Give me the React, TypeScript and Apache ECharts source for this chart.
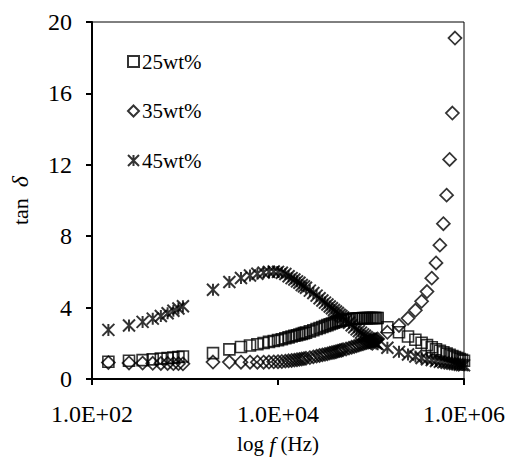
import React, { useEffect, useRef } from 'react';
import * as echarts from 'echarts';

// Frequencies (Hz)
const freqLow = [150, 250, 350, 450, 550, 650, 750, 850, 950];
const freqMid = [
  2000, 3000, 4000, 5000, 6000, 7000, 8000, 9000, 10000, 11000, 12000, 13000, 14000, 15000,
  16000, 17000, 18000, 19000, 20000, 22000, 24000, 26000, 28000, 30000, 32000, 34000, 36000,
  38000, 40000, 42000, 44000, 46000, 48000, 50000, 54000, 58000, 62000, 66000, 70000, 74000,
  78000, 82000, 86000, 90000, 94000, 98000, 102000, 106000, 110000, 114000, 118000,
];
const freqHigh = [
  150000, 200000, 250000, 300000, 350000, 400000, 450000, 500000, 550000, 600000, 650000,
  700000, 750000, 800000, 850000, 900000, 950000, 1000000,
];

// tan delta, 25wt%
const tan25Low = [0.97, 1.02, 1.06, 1.1, 1.14, 1.17, 1.2, 1.23, 1.26];
const tan25Mid = [
  1.45, 1.66, 1.79, 1.88, 1.95, 2.02, 2.08, 2.13, 2.18, 2.23, 2.28, 2.33, 2.38, 2.42, 2.45,
  2.49, 2.53, 2.57, 2.6, 2.67, 2.73, 2.8, 2.86, 2.91, 2.97, 3.02, 3.07, 3.11, 3.15, 3.19,
  3.22, 3.25, 3.27, 3.29, 3.32, 3.35, 3.37, 3.38, 3.39, 3.4, 3.4, 3.41, 3.41, 3.41, 3.42,
  3.42, 3.42, 3.42, 3.42, 3.42, 3.42,
];
const tan25High = [
  2.9, 2.62, 2.38, 2.2, 2.03, 1.9, 1.78, 1.67, 1.58, 1.5, 1.42, 1.35, 1.29, 1.23, 1.17, 1.12,
  1.07, 1.02,
];

// tan delta, 35wt%
const tan35Low = [0.92, 0.9, 0.89, 0.88, 0.87, 0.87, 0.86, 0.86, 0.85];
const tan35Mid = [
  0.95, 0.95, 0.94, 0.94, 0.94, 0.94, 0.95, 0.96, 0.97, 0.98, 1.0, 1.02, 1.04, 1.06, 1.08,
  1.1, 1.12, 1.14, 1.16, 1.2, 1.24, 1.28, 1.32, 1.35, 1.38, 1.41, 1.45, 1.48, 1.5, 1.53,
  1.56, 1.59, 1.61, 1.64, 1.68, 1.73, 1.78, 1.82, 1.86, 1.9, 1.94, 1.97, 2.01, 2.04, 2.07,
  2.1, 2.13, 2.16, 2.19, 2.21, 2.24,
];
const tan35High = [2.62, 3.0, 3.4, 3.85, 4.35, 4.9, 5.65, 6.5, 7.5, 8.7, 10.3, 12.3, 14.9, 19.1];

// tan delta, 45wt%
const tan45Low = [2.75, 3.0, 3.2, 3.38, 3.53, 3.68, 3.82, 3.95, 4.08];
const tan45Mid = [
  5.0, 5.43, 5.66, 5.8, 5.9, 5.96, 6.0, 6.02, 6.0, 5.95, 5.88, 5.76, 5.65, 5.57, 5.47, 5.39,
  5.27, 5.19, 5.11, 4.95, 4.82, 4.67, 4.52, 4.4, 4.28, 4.17, 4.06, 3.96, 3.87, 3.78, 3.7,
  3.6, 3.53, 3.45, 3.3, 3.15, 3.01, 2.9, 2.78, 2.68, 2.6, 2.5, 2.42, 2.34, 2.27, 2.22, 2.15,
  2.1, 2.04, 1.99, 1.94,
];
const tan45High = [
  1.75, 1.52, 1.37, 1.26, 1.18, 1.11, 1.06, 1.01, 0.97, 0.94, 0.91, 0.88, 0.86, 0.84, 0.82,
  0.8, 0.78, 0.77,
];

const seriesNames = ['25wt%', '35wt%', '45wt%'];
const xMin = 100;
const xMax = 1000000;
const yMin = 0;
const yMax = 20;
const yStep = 4;

const FONT = '"Liberation Serif", "Times New Roman", serif';

function pairs(fs: number[], vs: number[]) {
  return vs.map((v, i) => [fs[i], v]);
}

function fmtExp(v: number) {
  const e = Math.floor(Math.log10(v) + 1e-9);
  const m = v / Math.pow(10, e);
  const es = String(Math.abs(e)).padStart(2, '0');
  return m.toFixed(1) + 'E' + (e >= 0 ? '+' : '-') + es;
}

const STAR = 'path://M0 0L10 10M10 0L0 10M5 0L5 10';

export default function App() {
  const ref = useRef<HTMLDivElement>(null);
  useEffect(() => {
    if (!ref.current) return;
    const chart = echarts.init(ref.current, null, { renderer: 'svg' });
    const mk = (name: string, data: number[][], symbol: string, size: number, bw: number) => ({
      name,
      type: 'scatter',
      data,
      symbol,
      symbolSize: size,
      itemStyle: { color: 'rgba(0,0,0,0)', borderColor: '#000', borderWidth: bw },
      emphasis: { disabled: true },
    });
    chart.setOption({
      animation: false,
      backgroundColor: '#fff',
      grid: {
        left: 92,
        right: 46,
        top: 22,
        bottom: 80,
        containLabel: false,
        outerBoundsMode: 'none',
        show: true,
        borderColor: '#000',
        borderWidth: 1,
        backgroundColor: 'transparent',
      },
      legend: {
        orient: 'vertical',
        left: 122,
        top: 46,
        itemWidth: 11,
        itemHeight: 11,
        itemGap: 28.5,
        textStyle: { fontFamily: FONT, fontSize: 21, color: '#000', padding: [0, 0, 0, -2] },
        data: seriesNames,
      },
      xAxis: {
        type: 'log',
        logBase: 10,
        min: xMin,
        max: xMax,
        interval: 2,
        name: '{a|log }{b|f}{a| (Hz)}',
        nameLocation: 'middle',
        nameGap: 54,
        nameTextStyle: {
          rich: {
            a: { fontFamily: FONT, fontSize: 21, color: '#000' },
            b: { fontFamily: FONT, fontSize: 22, color: '#000', fontStyle: 'italic' },
          },
        },
        axisLine: { show: true, lineStyle: { color: '#000', width: 2 } },
        axisTick: { show: true, inside: false, length: 6, lineStyle: { color: '#000', width: 2 } },
        axisLabel: {
          fontFamily: FONT,
          fontSize: 24,
          color: '#000',
          margin: 23,
          formatter: (v: number) => fmtExp(v),
        },
        splitLine: { show: false },
        minorTick: { show: false },
      },
      yAxis: {
        type: 'value',
        min: yMin,
        max: yMax,
        interval: yStep,
        name: '{a|tan\u2002}{b|δ}',
        nameLocation: 'middle',
        nameGap: 60,
        nameTextStyle: {
          rich: {
            a: { fontFamily: FONT, fontSize: 22, color: '#000' },
            b: { fontFamily: FONT, fontSize: 24, color: '#000', fontStyle: 'italic' },
          },
        },
        axisLine: { show: true, lineStyle: { color: '#000', width: 2 } },
        axisTick: { show: true, inside: false, length: 6, lineStyle: { color: '#000', width: 2 } },
        axisLabel: { fontFamily: FONT, fontSize: 24, color: '#000', margin: 20 },
        splitLine: { show: false },
      },
      series: [
        mk(
          seriesNames[0],
          [
            ...pairs(freqLow, tan25Low),
            ...pairs(freqMid, tan25Mid),
            ...pairs(freqHigh, tan25High),
          ],
          'rect',
          11,
          1.6
        ),
        mk(
          seriesNames[1],
          [
            ...pairs(freqLow, tan35Low),
            ...pairs(freqMid, tan35Mid),
            ...pairs(freqHigh, tan35High),
          ],
          'diamond',
          13,
          1.7
        ),
        mk(
          seriesNames[2],
          [
            ...pairs(freqLow, tan45Low),
            ...pairs(freqMid, tan45Mid),
            ...pairs(freqHigh, tan45High),
          ],
          STAR,
          12,
          2
        ),
      ],
    });
    return () => chart.dispose();
  }, []);
  return (
    <div
      ref={ref}
      style={{ position: 'fixed', left: 0, top: 0, width: 510, height: 459, background: '#fff' }}
    />
  );
}
